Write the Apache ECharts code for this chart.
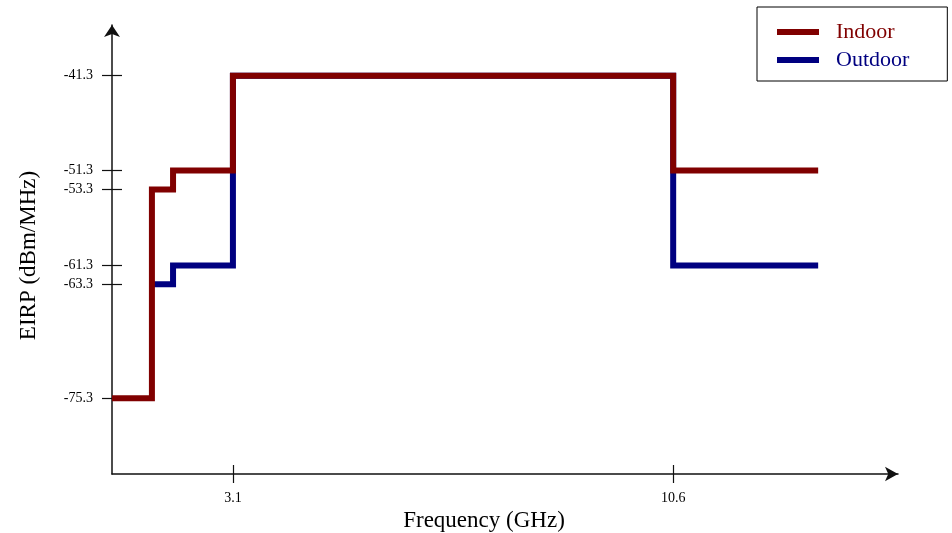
<!DOCTYPE html>
<html>
<head>
<meta charset="utf-8">
<script src="https://cdn.jsdelivr.net/npm/echarts@6/dist/echarts.min.js"></script>
<style>
html,body{margin:0;padding:0;background:#fff;}
#chart{width:952px;height:533px;}
</style>
</head>
<body>
<div id="chart"></div>
<script>
// Frequency (GHz) breakpoints and EIRP levels (dBm/MHz)
const indoorFreq = [1.04, 1.72, 1.72, 2.08, 2.08, 3.1, 3.1, 10.6, 10.6, 13.07];
const indoorEirp = [-75.3, -75.3, -53.3, -53.3, -51.3, -51.3, -41.3, -41.3, -51.3, -51.3];
const outdoorFreq = [1.72, 2.08, 2.08, 3.1, 3.1, 10.6, 10.6, 13.07];
const outdoorEirp = [-63.3, -63.3, -61.3, -61.3, -41.3, -41.3, -61.3, -61.3];
const xTickValues = [3.1, 10.6];
const yTickValues = [-75.3, -63.3, -61.3, -53.3, -51.3, -41.3];
const seriesNames = ['Indoor', 'Outdoor'];

const pairs = (xs, ys) => xs.map((x, i) => [x, ys[i]]);
const serif = 'Liberation Serif';
const RED = '#800000', BLUE = '#000080';

const chart = echarts.init(document.getElementById('chart'), null, {renderer: 'canvas'});
const xRange = {min: 1.04, max: 14.43};
const yRange = {min: -83.3, max: -35.95};

chart.setOption({
  animation: false,
  backgroundColor: '#fff',
  grid: {left: 112, right: 54, top: 25, bottom: 59, containLabel: false, outerBoundsMode: 'none'},
  legend: {
    orient: 'vertical',
    left: 757, top: 7,
    padding: [14, 38, 10, 20],
    borderColor: '#000', borderWidth: 1,
    icon: 'rect',
    itemWidth: 42, itemHeight: 6, itemGap: 6,
    textStyle: {fontFamily: serif, fontSize: 22, padding: [0, 0, 0, 12]},
    data: [
      {name: seriesNames[0], textStyle: {color: RED}},
      {name: seriesNames[1], textStyle: {color: BLUE}}
    ]
  },
  xAxis: [{
    type: 'value', ...xRange, position: 'bottom',
    name: 'Frequency (GHz)', nameLocation: 'middle', nameGap: 29,
    nameTextStyle: {fontFamily: serif, fontSize: 23, color: '#000', padding: [0, 42, 0, 0]},
    axisLine: {show: true, lineStyle: {color: '#111', width: 1.5}, symbol: ['none', 'arrow'], symbolSize: [11, 13]},
    axisTick: {show: true, customValues: xTickValues, length: 9, lineStyle: {color: '#111', width: 1.2}},
    axisLabel: {show: true, customValues: xTickValues, margin: 17, fontFamily: serif, fontSize: 14, color: '#000'},
    splitLine: {show: false}
  }, {
    type: 'value', ...xRange, position: 'bottom', gridIndex: 0,
    axisLine: {show: false},
    axisTick: {show: true, inside: true, customValues: xTickValues, length: 9, lineStyle: {color: '#111', width: 1.2}},
    axisLabel: {show: false},
    splitLine: {show: false}
  }],
  yAxis: [{
    type: 'value', ...yRange, position: 'left',
    name: 'EIRP (dBm/MHz)', nameLocation: 'middle', nameGap: 72,
    nameTextStyle: {fontFamily: serif, fontSize: 23, color: '#000', padding: [0, 12, 0, 0]},
    axisLine: {show: true, lineStyle: {color: '#111', width: 1.5}, symbol: ['none', 'arrow'], symbolSize: [12, 12]},
    axisTick: {show: true, customValues: yTickValues, length: 10, lineStyle: {color: '#111', width: 1.2}},
    axisLabel: {show: true, customValues: yTickValues, margin: 19, fontFamily: serif, fontSize: 14, color: '#000'},
    splitLine: {show: false}
  }, {
    type: 'value', ...yRange, position: 'left', gridIndex: 0,
    axisLine: {show: false},
    axisTick: {show: true, inside: true, customValues: yTickValues, length: 10, lineStyle: {color: '#111', width: 1.2}},
    axisLabel: {show: false},
    splitLine: {show: false}
  }],
  series: [{
    name: seriesNames[1], type: 'line', xAxisIndex: 0, yAxisIndex: 0,
    data: pairs(outdoorFreq, outdoorEirp),
    showSymbol: false, symbol: 'none', z: 2,
    color: BLUE,
    lineStyle: {color: BLUE, width: 6, join: 'miter', cap: 'butt'}
  }, {
    name: seriesNames[0], type: 'line', xAxisIndex: 0, yAxisIndex: 0,
    data: pairs(indoorFreq, indoorEirp),
    showSymbol: false, symbol: 'none', z: 3,
    color: RED,
    lineStyle: {color: RED, width: 6, join: 'miter', cap: 'butt'}
  }]
});
</script>
</body>
</html>
